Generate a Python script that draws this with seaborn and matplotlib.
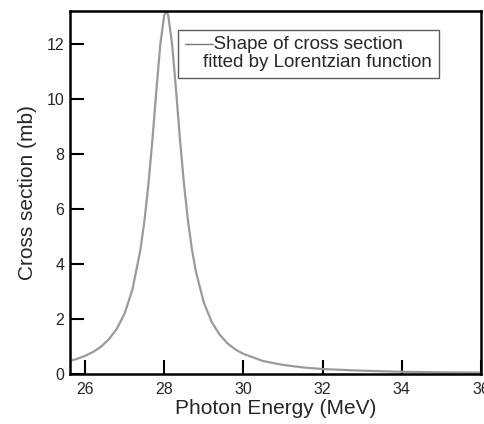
import numpy as np
import pandas as pd
import matplotlib
matplotlib.use("Agg")
import matplotlib.pyplot as plt
import seaborn as sns

# Values (photon energy in MeV, cross section in mb)
energy = [25.62, 25.8, 26.0, 26.2, 26.4, 26.6, 26.8, 27.0, 27.2, 27.4, 27.5, 27.6,
          27.7, 27.8, 27.9, 28.0, 28.05, 28.1, 28.2, 28.3, 28.4, 28.5, 28.6, 28.7,
          28.8, 29.0, 29.2, 29.4, 29.6, 29.8, 30.0, 30.5, 31.0, 31.5, 32.0, 33.0,
          34.0, 35.0, 36.0]
cross_section = [0.48, 0.55, 0.66, 0.80, 0.99, 1.26, 1.64, 2.20, 3.09, 4.53, 5.57, 6.89,
                 8.49, 10.29, 11.98, 13.05, 13.2, 13.05, 11.98, 10.29, 8.49, 6.89, 5.57, 4.53,
                 3.72, 2.60, 1.89, 1.43, 1.11, 0.89, 0.73, 0.47, 0.33, 0.24, 0.18, 0.12,
                 0.08, 0.06, 0.05]
x_ticks = [26, 28, 30, 32, 34, 36]
y_ticks = [0, 2, 4, 6, 8, 10, 12]
legend_label = "  Shape of cross section\nfitted by Lorentzian function"

df = pd.DataFrame({"energy": energy, "xs": cross_section})

sns.set_style("ticks")
plt.rcParams["font.family"] = ["Liberation Sans", "DejaVu Sans"]

fig = plt.figure(figsize=(4.84, 4.24), dpi=100)
ax = fig.add_axes([70 / 484, 1 - 374 / 424, 411 / 484, 363 / 424])

sns.lineplot(data=df, x="energy", y="xs", ax=ax, color="#9a9a9a", linewidth=1.6,
             label=legend_label)

ax.set_xlim(25.62, 36.0)
ax.set_ylim(0, 13.2)
ax.set_xticks(x_ticks)
ax.set_yticks(y_ticks)
ax.tick_params(direction="in", length=10, width=1.5, labelsize=11.5, color="black",
               pad=4)
ax.tick_params(axis="x", pad=6)
for s in ax.spines.values():
    s.set_visible(True)
    s.set_linewidth(1.8)
    s.set_color("black")

ax.set_xlabel("Photon Energy (MeV)", fontsize=15, labelpad=1)
ax.set_ylabel("Cross section (mb)", fontsize=15, labelpad=7)

leg = ax.legend(loc="upper left", bbox_to_anchor=(0.263, 0.948), borderaxespad=0,
                fontsize=13.5, frameon=True, fancybox=False, shadow=False,
                handlelength=1.5, handletextpad=-0.5, borderpad=0.35)
leg.get_frame().set_edgecolor("#333333")
leg.get_frame().set_linewidth(1.0)
for t in leg.get_texts():
    t.set_linespacing(1.05)
hl = leg.get_lines()[0]
hl.set_linewidth(1.0)
hl.set_color("#777777")
yd = np.asarray(hl.get_ydata(), dtype=float)
hl.set_ydata(yd + 7.0)

fig.savefig("out.png", dpi=100)
